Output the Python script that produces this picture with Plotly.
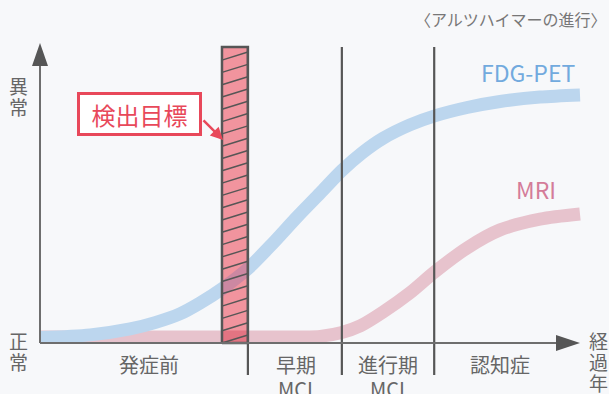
import plotly.graph_objects as go

# ---------------- data (time units 0..100 along the x arrow, level 0..100 up the y arrow) ----
fdg_t = [0, 9.3, 16.7, 21.3, 25.9, 29.6, 33.9, 38.5, 43.0, 47.6, 51.9, 55.9, 59.6, 63.5, 68.5, 73.1, 79.1, 85.2, 92.6, 100]
fdg_v = [1.8, 2.7, 4.7, 6.8, 9.7, 13.3, 18.3, 24.8, 33.0, 42.0, 50.0, 57.5, 63.3, 68.2, 72.7, 75.7, 78.5, 80.5, 82.0, 82.7]

mri_t = [0, 24.0, 48.1, 51.9, 55.9, 59.3, 63.5, 68.5, 73.1, 79.1, 85.2, 92.6, 100]
mri_v = [2.0, 2.0, 2.0, 2.2, 3.5, 5.7, 10.3, 16.7, 23.7, 31.7, 37.7, 41.3, 43.0]

stage_bounds = [38.5, 55.9, 73.0]
stage_line1 = ["発症前", "早期", "進行期", "認知症"]
stage_line2 = ["", "MCI", "MCI", ""]
stage_centers = [20.2, 47.4, 64.4, 85.2]

target_range = [33.7, 38.5]   # 検出目標 band
target_top = 98.7

y_labels_top = "異常"
y_labels_bottom = "正常"
x_axis_label = "経過年"
title_text = "〈アルツハイマーの進行〉"

# ---------------- styling ----------------
X_RANGE = [-40 / 5.4, 569 / 5.4]
Y_RANGE = [-17.0, 343 / 3]
FONT = "Noto Sans CJK JP"
BG = "#f7f8fa"
BLUE = "#bcd6ee"
PINK = "#e7c3cd"
RECT = "#f1949e"
BLUE_ON_RECT = "#cc88a2"
PINK_ON_RECT = "#e37482"
DARK = "#565656"
AXIS = "#6e6e6e"
TEXT = "#666666"
RED = "#e8485a"
LW = 13
SMOOTH = 0.8

fig = go.Figure()

# subplot 1: curves + rect fill
fig.add_trace(go.Scatter(x=mri_t, y=mri_v, mode="lines", line=dict(color=PINK, width=LW, shape="spline", smoothing=SMOOTH),
                         xaxis="x", yaxis="y", hoverinfo="skip"))
fig.add_trace(go.Scatter(x=fdg_t, y=fdg_v, mode="lines", line=dict(color=BLUE, width=LW, shape="spline", smoothing=SMOOTH),
                         xaxis="x", yaxis="y", hoverinfo="skip"))
r0, r1 = target_range
fig.add_trace(go.Scatter(x=[r0, r1, r1, r0, r0], y=[0, 0, target_top, target_top, 0], mode="lines",
                         fill="toself", fillcolor=RECT, line=dict(width=0), xaxis="x", yaxis="y", hoverinfo="skip"))

# subplot 2: overlap of curves with the rect (clipped to the rect's x range)
fig.add_trace(go.Scatter(x=mri_t, y=mri_v, mode="lines", line=dict(color=PINK_ON_RECT, width=LW, shape="spline", smoothing=SMOOTH),
                         xaxis="x2", yaxis="y2", hoverinfo="skip"))
fig.add_trace(go.Scatter(x=fdg_t, y=fdg_v, mode="lines", line=dict(color=BLUE_ON_RECT, width=LW, shape="spline", smoothing=SMOOTH),
                         xaxis="x2", yaxis="y2", hoverinfo="skip"))

# subplot 3 (on top): hatching, borders, dividers, axes
HATCH_STEP = 4.1
HATCH_RISE = 2.67
hx, hy = [], []
k = 0
while k * HATCH_STEP < target_top:
    y0 = k * HATCH_STEP
    y1 = y0 + HATCH_RISE
    xa, xb = r0, r1
    if y1 > target_top:
        xb = r0 + (target_top - y0) / HATCH_RISE * (r1 - r0)
        y1 = target_top
    hx += [xa, xb, None]
    hy += [y0, y1, None]
    k += 1
fig.add_trace(go.Scatter(x=hx, y=hy, mode="lines", line=dict(color=DARK, width=1.5),
                         xaxis="x3", yaxis="y3", hoverinfo="skip"))
fig.add_trace(go.Scatter(x=[r0, r1, r1, r0, r0], y=[0, 0, target_top, target_top, 0], mode="lines",
                         line=dict(color=DARK, width=2.5), xaxis="x3", yaxis="y3", hoverinfo="skip"))
dx, dy = [], []
for b in stage_bounds:
    dx += [b, b, None]
    dy += [-10.7, target_top, None]
fig.add_trace(go.Scatter(x=dx, y=dy, mode="lines", line=dict(color=DARK, width=2.2),
                         xaxis="x3", yaxis="y3", hoverinfo="skip"))

# axes with arrowheads
X_TIP, Y_TIP = 100.0, 100.0
HEAD_X = 24 / 5.4
HEAD_Y = 23 / 3
HALF_X = 8 / 5.4
HALF_Y = 8 / 3
fig.add_trace(go.Scatter(x=[0, 0, None, 0, X_TIP - HEAD_X], y=[Y_TIP - HEAD_Y, 0, None, 0, 0], mode="lines",
                         line=dict(color=AXIS, width=2), xaxis="x3", yaxis="y3", hoverinfo="skip"))
fig.add_trace(go.Scatter(x=[-HALF_X, HALF_X, 0, -HALF_X], y=[Y_TIP - HEAD_Y] * 2 + [Y_TIP, Y_TIP - HEAD_Y],
                         mode="lines", fill="toself", fillcolor=DARK, line=dict(width=0),
                         xaxis="x3", yaxis="y3", hoverinfo="skip"))
fig.add_trace(go.Scatter(x=[X_TIP - HEAD_X, X_TIP - HEAD_X, X_TIP, X_TIP - HEAD_X], y=[-HALF_Y, HALF_Y, 0, -HALF_Y],
                         mode="lines", fill="toself", fillcolor=DARK, line=dict(width=0),
                         xaxis="x3", yaxis="y3", hoverinfo="skip"))

# ---------------- annotations ----------------
ann = []
ann.append(dict(text=title_text, xref="paper", yref="paper", x=1.0, y=1 - 19 / 394, xanchor="right",
                yanchor="middle", showarrow=False, font=dict(family=FONT, size=16, color="#777777")))
ann.append(dict(text="FDG-PET", x=90.3, y=90.5, showarrow=False, font=dict(family=FONT, size=23, color="#72aade")))
ann.append(dict(text="MRI", x=91.9, y=51.5, showarrow=False, font=dict(family=FONT, size=23, color="#d47c99")))
ann.append(dict(text="検出目標", x=18.4, y=76.3, showarrow=False, font=dict(family=FONT, size=24, color=RED),
                bgcolor="#ffffff", bordercolor=RED, borderwidth=3, borderpad=0, width=119, height=38))
ann.append(dict(text="", x=33.9, y=67.7, ax=30.0, ay=74.7, axref="x", ayref="y", showarrow=True,
                arrowhead=2, arrowsize=1, arrowwidth=2.5, arrowcolor=RED, standoff=0, startstandoff=0))

for i, ch in enumerate(y_labels_top):
    ann.append(dict(text=ch, x=-3.9, y=85.7 - i * 7.0, showarrow=False, font=dict(family=FONT, size=19, color=TEXT)))
for i, ch in enumerate(y_labels_bottom):
    ann.append(dict(text=ch, x=-3.9, y=1.0 - i * 7.2, showarrow=False, font=dict(family=FONT, size=19, color=TEXT)))
for i, ch in enumerate(x_axis_label):
    ann.append(dict(text=ch, x=103.5, y=1.0 - i * 7.1, showarrow=False, font=dict(family=FONT, size=19, color=TEXT)))

for c, l1, l2 in zip(stage_centers, stage_line1, stage_line2):
    ann.append(dict(text=l1, x=c, y=-7.0, showarrow=False, font=dict(family=FONT, size=20, color=TEXT)))
    if l2:
        ann.append(dict(text=l2, x=c, y=-15.0, showarrow=False, font=dict(family=FONT, size=20, color=TEXT)))

for a in ann:
    a.setdefault("xref", "x")
    a.setdefault("yref", "y")

span = X_RANGE[1] - X_RANGE[0]
d0 = (r0 - X_RANGE[0]) / span
d1 = (r1 - X_RANGE[0]) / span
hidden = dict(visible=False, showgrid=False, zeroline=False, fixedrange=True)
fig.update_layout(
    width=609, height=394, margin=dict(l=0, r=0, t=0, b=0),
    paper_bgcolor=BG, plot_bgcolor="rgba(0,0,0,0)", showlegend=False,
    xaxis=dict(domain=[0, 1], range=X_RANGE, anchor="y", **hidden),
    yaxis=dict(domain=[0, 1], range=Y_RANGE, anchor="x", **hidden),
    xaxis2=dict(domain=[d0, d1], range=[r0, r1], anchor="y2", **hidden),
    yaxis2=dict(domain=[0, 1], range=Y_RANGE, anchor="x2", **hidden),
    xaxis3=dict(domain=[0, 1], range=X_RANGE, anchor="y3", **hidden),
    yaxis3=dict(domain=[0, 1], range=Y_RANGE, anchor="x3", **hidden),
    annotations=ann,
)

fig.write_html("out.html")
